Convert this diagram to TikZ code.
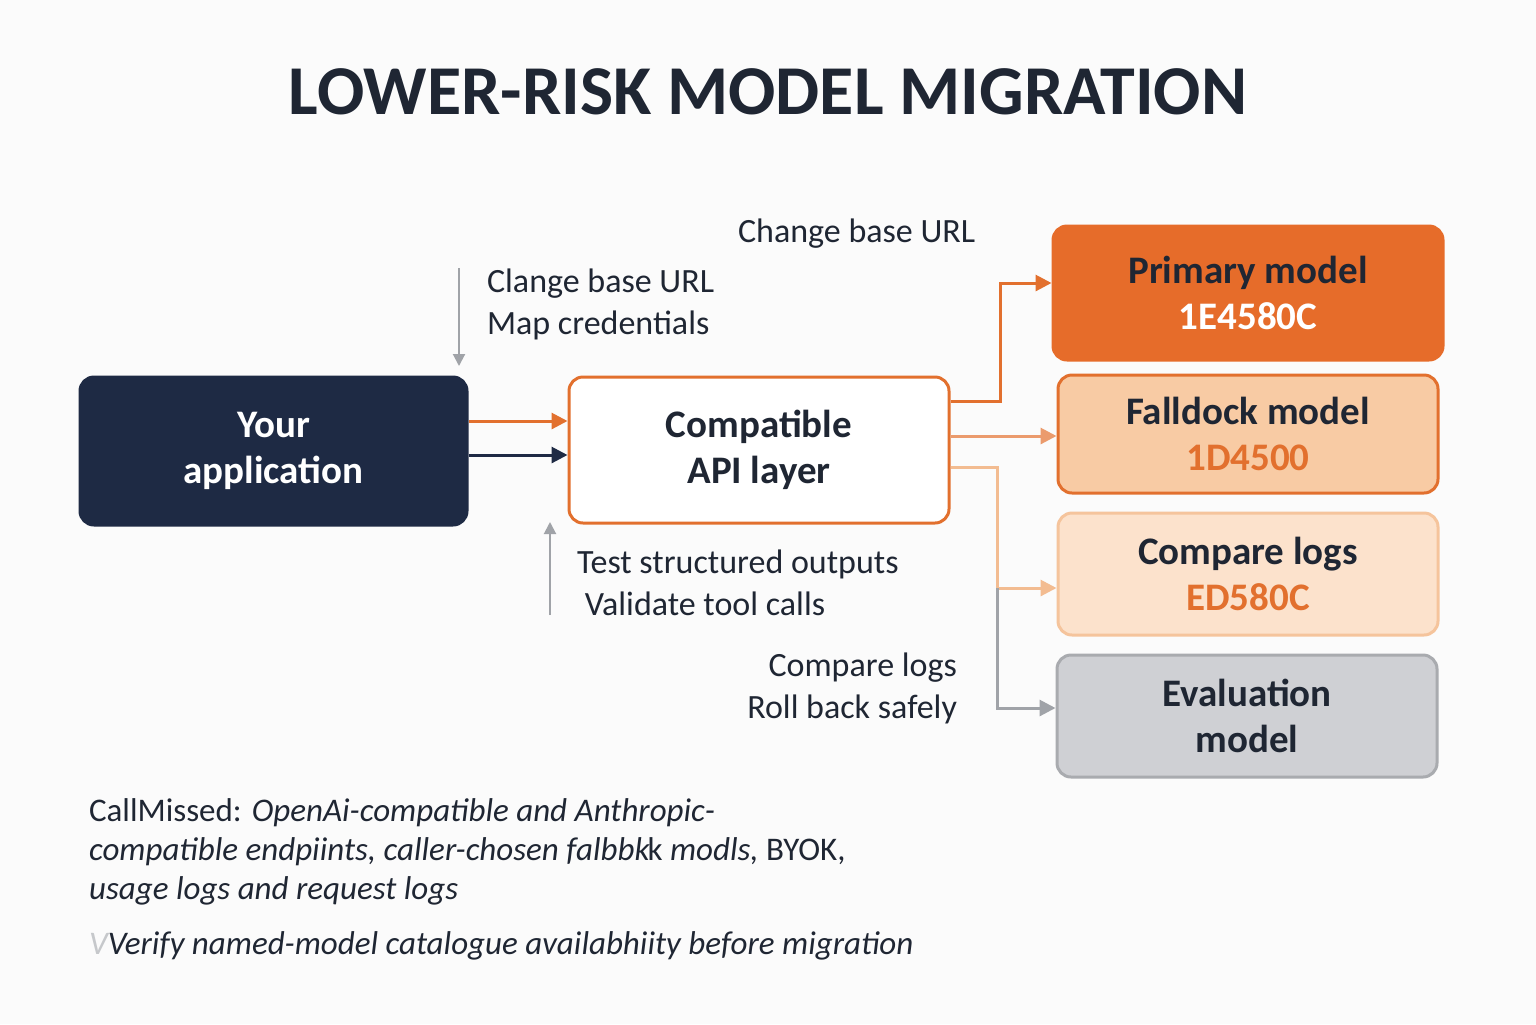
\documentclass[tikz,border=0pt]{standalone}
\usepackage{fontspec}
\setmainfont{Carlito}
\usetikzlibrary{arrows.meta,calc}
\definecolor{navy}{HTML}{1E2A44}
\definecolor{org}{HTML}{E2702E}
\definecolor{orgfill}{HTML}{E66C2A}
\definecolor{fbfill}{HTML}{F8CBA4}
\definecolor{cmpfill}{HTML}{FCE2CC}
\definecolor{cmpline}{HTML}{F5C49C}
\definecolor{evfill}{HTML}{CFD0D4}
\definecolor{evline}{HTML}{A9ABAF}
\definecolor{txt}{HTML}{1F2633}
\definecolor{gr}{HTML}{A0A3A8}
\begin{document}
\begin{tikzpicture}[x=0.5pt,y=-0.5pt,
 box/.style={rounded corners=7pt,line width=1.5pt,align=center,font=\fontsize{19.5}{23}\selectfont\bfseries,text=txt},
 lbl/.style={font=\fontsize{17}{21}\selectfont,text=txt,align=left},
 arr/.style={line width=1.5pt,-{Triangle[length=8pt,width=8pt]}},
 garr/.style={line width=1pt,gr,-{Triangle[length=6pt,width=6pt]}}]
\useasboundingbox[fill=white!97!gray] (0,0) rectangle (1536,1024);
\node[font=\fontsize{35}{38}\selectfont\bfseries,text=txt] (title) at (768,92) {LOWER-RISK MODEL MIGRATION};
\node[box,fill=navy,draw=navy,text=white,minimum width=193.5pt,minimum height=74pt] (app) at (273.5,451) {Your\\application};
\node[box,fill=white,draw=org,minimum width=190pt,minimum height=73pt] (api) at (759,450) {Compatible\\API layer};
\node[box,fill=orgfill,draw=orgfill,minimum width=195pt,minimum height=67pt] (prim) at (1248,293) {Primary model\\\textcolor{white}{1E4580C}};
\node[box,fill=fbfill,draw=org,minimum width=190pt,minimum height=59pt] (fb) at (1248,434) {Falldock model\\\textcolor{org}{1D4500}};
\node[box,fill=cmpfill,draw=cmpline,minimum width=190pt,minimum height=61pt] (cmp) at (1248,574) {Compare logs\\\textcolor{org}{ED580C}};
\node[box,fill=evfill,draw=evline,minimum width=190pt,minimum height=61pt] (ev) at (1247,716) {Evaluation\\model};
% app -> api
\draw[arr,org] ([yshift=15pt]app.east) -- ([yshift=14.5pt]api.west);
\draw[arr,navy] ([yshift=-2pt]app.east) -- ([yshift=-2.5pt]api.west);
% annotations
\coordinate (d1) at (459,268); \coordinate (d2) at (459,366);
\draw[garr] (d1) -- (d2);
\node[lbl,anchor=west] (t1) at (480,304) {Clange base URL\\Map credentials};
\coordinate (u1) at (550,615); \coordinate (u2) at (550,522);
\draw[garr] (u1) -- (u2);
\node[lbl,anchor=west] (t2) at (570,583) {Test structured outputs\\\ Validate tool calls};
\node[lbl,anchor=west] (t3) at (731,234) {Change base URL};
\node[lbl,anchor=east,align=right] (t4) at (964,688) {Compare logs\\Roll back safely};
% api -> models
\draw[arr,org] ([yshift=24.5pt]api.east) -| (1000,283) -- ([yshift=5pt]prim.west);
\draw[arr,org!70] ([yshift=7pt]api.east) -- ([yshift=-1pt]fb.west);
\coordinate (br) at (997,588);
\draw[arr,cmpline!90!org] ([yshift=-8.5pt]api.east) -| (br) -- ([yshift=-7pt]cmp.west);
\draw[arr,gr] (br) |- ([yshift=4pt]ev.west);
% footer
\node[lbl,anchor=north west,font=\fontsize{16.5}{19.5}\selectfont\itshape] (f1) at (82,792) {\upshape CallMissed: \itshape OpenAi-compatible and Anthropic-\\compatible endpiints, caller-chosen falbbk\kern-1pt\textsc{k} modls, \upshape BYOK,\\\itshape usage logs and request logs};
\node[lbl,anchor=west,font=\fontsize{16.5}{21}\selectfont\itshape] (f2) at (82,946) {\textcolor{gr!60}{V}Verify named-model catalogue availabhiity before migration};
\end{tikzpicture}
\end{document}
